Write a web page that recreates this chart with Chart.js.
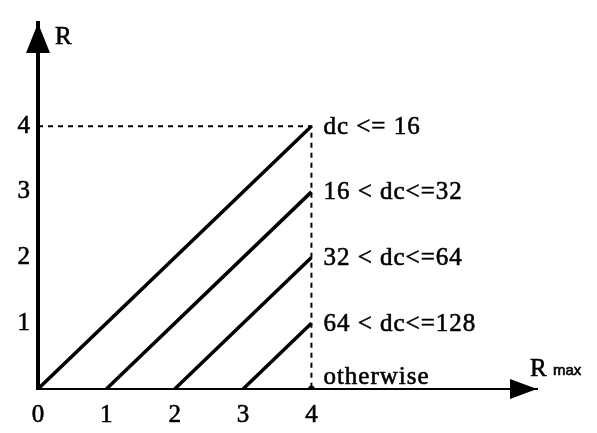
<!DOCTYPE html>
<html>
<head>
<meta charset="utf-8">
<script src="https://cdn.jsdelivr.net/npm/chart.js@4"></script>
<style>
  html, body { margin: 0; padding: 0; background: #fff; }
  #wrap { width: 597px; height: 433px; }
</style>
</head>
<body>
<div id="wrap"><canvas id="rChart" width="597" height="433"></canvas></div>
<script>
// R against R max, one line per dc range
const rStart = [0, 1, 2, 3];          // where each line leaves the R max axis
const rEnd = [4, 3, 2, 1];            // R reached at R max = 4
const rMaxLimit = 4;
const rangeLabels = ['dc <= 16', '16 < dc<=32', '32 < dc<=64', '64 < dc<=128', 'otherwise'];
const rangeLevels = [4, 3, 2, 1, 0];
const xTicks = [0, 1, 2, 3, 4];
const yTicks = [1, 2, 3, 4];

const serif = '"Times New Roman", Times, "Liberation Serif", serif';

const lineSets = rStart.map((s, i) => ({
  data: [{x: s, y: 0}, {x: rMaxLimit, y: rEnd[i]}],
  showLine: true,
  borderColor: '#000',
  borderWidth: 3.5,
  pointRadius: 0,
  fill: false
}));

const guideSet = {
  data: [{x: 0, y: rMaxLimit}, {x: rMaxLimit, y: rMaxLimit}, {x: rMaxLimit, y: 0}],
  showLine: true,
  borderColor: '#000',
  borderWidth: 2,
  borderDash: [5, 5],
  pointRadius: 0,
  fill: false
};

const dotSet = {
  data: [{x: rMaxLimit, y: 0}],
  showLine: false,
  pointRadius: 3,
  pointBackgroundColor: '#000',
  pointBorderColor: '#000'
};

// arrow heads, axis names and the range labels beside x = 4
const decorations = {
  id: 'decorations',
  afterDraw(chart) {
    const ctx = chart.ctx;
    const a = chart.chartArea;
    const xs = chart.scales.x, ys = chart.scales.y;
    const x0 = xs.getPixelForValue(0), y0 = ys.getPixelForValue(0);
    ctx.save();
    ctx.fillStyle = '#000';
    ctx.strokeStyle = '#000';
    ctx.lineWidth = 0.6;

    ctx.beginPath();
    ctx.moveTo(a.right, y0);
    ctx.lineTo(a.right - 27, y0 - 10);
    ctx.lineTo(a.right - 27, y0 + 10);
    ctx.closePath();
    ctx.fill();

    ctx.beginPath();
    ctx.moveTo(x0, a.top);
    ctx.lineTo(x0 - 12, a.top + 30);
    ctx.lineTo(x0 + 12, a.top + 30);
    ctx.closePath();
    ctx.fill();

    const txt = (t, x, y) => { ctx.fillText(t, x, y); ctx.strokeText(t, x, y); };

    ctx.textAlign = 'left';
    ctx.textBaseline = 'middle';
    ctx.font = '25px ' + serif;
    txt('R', x0 + 17, a.top + 14);
    txt('R', a.right - 7, y0 - 20);
    ctx.font = '15px Arial, "Liberation Sans", sans-serif';
    txt('max', a.right + 16, y0 - 18);

    ctx.font = '25px ' + serif;
    ctx.letterSpacing = '1px';
    const lx = xs.getPixelForValue(rMaxLimit) + 12;
    rangeLabels.forEach((t, i) => {
      let py = ys.getPixelForValue(rangeLevels[i]) + 1;
      if (rangeLevels[i] === 0) py -= 13;
      txt(t, lx, py);
    });
    ctx.restore();
  }
};

const tickStyle = {
  color: '#000',
  font: { family: serif, size: 25 },
  textStrokeColor: '#000',
  textStrokeWidth: 0.6
};

new Chart(document.getElementById('rChart'), {
  type: 'scatter',
  data: { datasets: [...lineSets, guideSet, dotSet] },
  options: {
    responsive: false,
    animation: false,
    layout: { padding: { top: 9, right: 60, left: 0, bottom: 0 } },
    plugins: { legend: { display: false }, tooltip: { enabled: false } },
    scales: {
      x: {
        type: 'linear',
        min: 0,
        max: 7.3,
        afterFit(scale) { scale.height = 44; },
        afterBuildTicks(scale) { scale.ticks = xTicks.map(v => ({value: v})); },
        grid: { display: false, drawTicks: false },
        border: { display: true, color: '#000', width: 2 },
        ticks: Object.assign({ padding: 11 }, tickStyle)
      },
      y: {
        type: 'linear',
        min: 0,
        max: 5.57,
        afterFit(scale) { scale.width = 38; },
        afterBuildTicks(scale) { scale.ticks = yTicks.map(v => ({value: v})); },
        grid: { display: false, drawTicks: false },
        border: { display: true, color: '#000', width: 4 },
        ticks: Object.assign({ padding: 8 }, tickStyle)
      }
    }
  },
  plugins: [decorations]
});
</script>
</body>
</html>
